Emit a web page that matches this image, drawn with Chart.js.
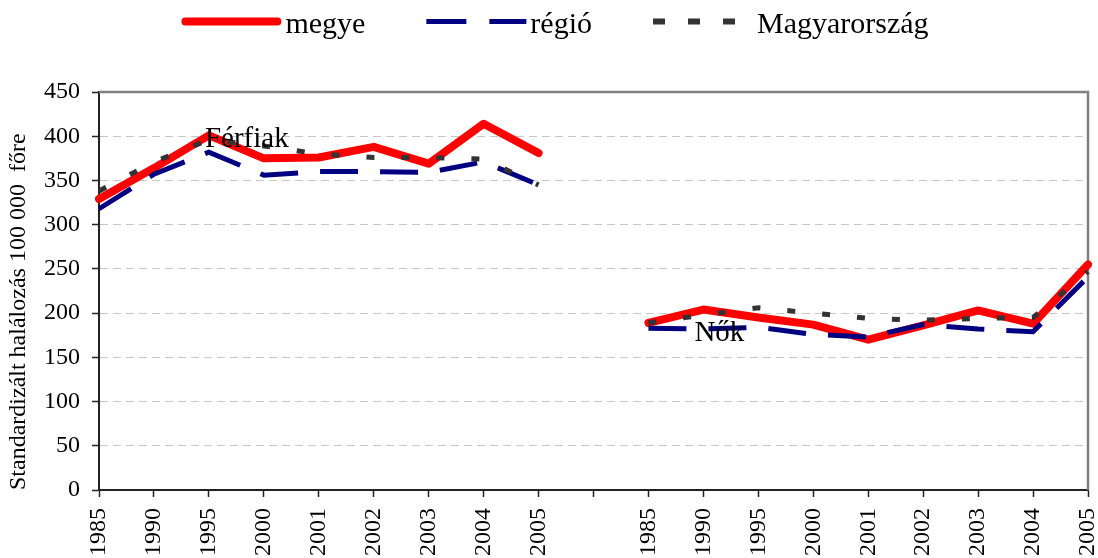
<!DOCTYPE html>
<html>
<head>
<meta charset="utf-8">
<script src="https://cdn.jsdelivr.net/npm/chart.js@4/dist/chart.umd.min.js"></script>
<style>
  html, body { margin: 0; padding: 0; background: #fff; }
  #wrap { width: 1098px; height: 558px; position: relative; }
</style>
</head>
<body>
<div id="wrap"><canvas id="chart"></canvas></div>
<script>
// years on the axis, same set for both groups (men, then women)
const years = ['1985', '1990', '1995', '2000', '2001', '2002', '2003', '2004', '2005'];
const labels = [...years, '', ...years];

// standardised mortality per 100 000
const megyeFerfi = [329, 364, 401, 375, 376, 388, 369, 414, 381];
const megyeNo = [189, 204, 195, 187, 170, 186, 203, 188, 255];
const regioFerfi = [318, 357, 382, 356, 360, 360, 359, 371, 345];
const regioNo = [183, 182, 184, 176, 173, 187, 182, 179, 241];
const orszagFerfi = [338, 371, 396, 389, 380, 376, 376, 374, 345];
const orszagNo = [189, 198, 206, 200, 194, 192, 194, 195, 247];

const yTicks = [0, 50, 100, 150, 200, 250, 300, 350, 400, 450];

const serif = 'Liberation Serif, Times New Roman, serif';
Chart.defaults.font.family = serif;
Chart.defaults.color = '#000';

// gray frame on top and right of the plot area
const framePlugin = {
    id: 'frame',
    beforeDatasetsDraw(chart) {
        const {ctx, chartArea: a} = chart;
        ctx.save();
        ctx.strokeStyle = '#808080';
        ctx.lineWidth = 2.5;
        ctx.beginPath();
        ctx.moveTo(a.left, a.top);
        ctx.lineTo(a.right, a.top);
        ctx.lineTo(a.right, a.bottom);
        ctx.stroke();
        ctx.restore();
    }
};

// group labels (Férfiak / Nők) placed through the scales
const notesPlugin = {
    id: 'notes',
    afterDatasetsDraw(chart, args, opts) {
        const {ctx, scales} = chart;
        ctx.save();
        ctx.font = opts.font;
        ctx.fillStyle = '#000';
        ctx.textBaseline = 'alphabetic';
        opts.items.forEach(n => {
            const x = scales.x.getPixelForValue(n.index) + n.dx;
            const y = scales.y.getPixelForValue(n.value);
            ctx.fillText(n.text, x, y);
        });
        ctx.restore();
    }
};

// legend drawn like the original: line sample, then text right after it
const legendPlugin = {
    id: 'topLegend',
    afterDraw(chart, args, o) {
        const ctx = chart.ctx;
        ctx.save();
        ctx.font = o.font;
        const items = chart.data.datasets.map(ds => ({ds, w: ctx.measureText(ds.label).width}));
        const total = items.reduce((s, it) => s + o.lineLen + o.textGap + it.w, 0) + o.itemGap * (items.length - 1);
        let x = chart.width / 2 - total / 2 + o.shift;
        items.forEach(it => {
            const ds = it.ds;
            ctx.strokeStyle = ds.borderColor;
            ctx.lineWidth = ds.legendWidth || ds.borderWidth;
            ctx.setLineDash(ds.legendDash || ds.borderDash || []);
            ctx.lineCap = ds.borderCapStyle || 'butt';
            const inset = ctx.lineCap === 'round' ? ctx.lineWidth / 2 : 0;
            ctx.beginPath();
            ctx.moveTo(x + inset, o.y);
            ctx.lineTo(x + o.lineLen - inset, o.y);
            ctx.stroke();
            ctx.setLineDash([]);
            ctx.fillStyle = '#000';
            ctx.textBaseline = 'alphabetic';
            ctx.fillText(ds.label, x + o.lineLen + o.textGap, o.baseline);
            x += o.lineLen + o.textGap + it.w + o.itemGap;
        });
        ctx.restore();
    }
};

new Chart(document.getElementById('chart'), {
    type: 'line',
    data: {
        labels: labels,
        datasets: [
            {
                label: 'megye',
                data: [...megyeFerfi, null, ...megyeNo],
                borderColor: '#ff0000',
                borderWidth: 8,
                borderCapStyle: 'round',
                borderJoinStyle: 'round',
                order: 3
            },
            {
                label: 'régió',
                data: [...regioFerfi, null, ...regioNo],
                borderColor: '#000080',
                borderWidth: 5,
                borderDash: [38, 22],
                legendDash: [40, 23],
                order: 2
            },
            {
                label: 'Magyarország',
                data: [...orszagFerfi, null, ...orszagNo],
                borderColor: '#333333',
                borderWidth: 5,
                borderDash: [8, 27],
                legendDash: [12, 23],
                legendWidth: 6,
                order: 1
            }
        ]
    },
    options: {
        responsive: true,
        maintainAspectRatio: false,
        animation: false,
        spanGaps: false,
        elements: {
            point: {radius: 0, hoverRadius: 0},
            line: {tension: 0, fill: false}
        },
        layout: {padding: {top: 92, right: 10, left: 0, bottom: 0}},
        plugins: {
            legend: {display: false},
            tooltip: {enabled: false},
            topLegend: {
                font: '30px ' + serif,
                y: 21.5,
                baseline: 33,
                lineLen: 100,
                textGap: 4,
                itemGap: 61,
                shift: 6
            },
            notes: {
                font: '29px ' + serif,
                items: [
                    {text: 'Férfiak', index: 2, value: 388, dx: -4},
                    {text: 'Nők', index: 11, value: 168, dx: -9}
                ]
            }
        },
        scales: {
            x: {
                type: 'category',
                offset: false,
                grid: {
                    display: true,
                    drawOnChartArea: false,
                    drawTicks: true,
                    tickLength: 7,
                    tickColor: '#222',
                    tickWidth: 1.5
                },
                border: {display: true, color: '#222', width: 2},
                ticks: {
                    autoSkip: false,
                    maxRotation: 90,
                    minRotation: 90,
                    padding: 11,
                    font: {size: 24}
                },
                afterFit(s) {
                    s.height = 68;
                    s.paddingLeft = 0;
                    s.paddingRight = 0;
                }
            },
            y: {
                min: 0,
                max: 450,
                grid: {
                    color: ctx => (ctx.tick && (ctx.tick.value === 0 || ctx.tick.value === 450)) ? 'rgba(0,0,0,0)' : '#c8c8c8',
                    lineWidth: 1,
                    drawTicks: true,
                    tickLength: 7,
                    tickColor: '#222',
                    tickWidth: 1.5
                },
                border: {display: true, color: '#222', width: 2, dash: [8, 5]},
                ticks: {
                    padding: 12,
                    font: {size: 24},
                    stepSize: 50
                },
                afterBuildTicks(s) {
                    s.ticks = yTicks.map(v => ({value: v}));
                },
                title: {
                    display: true,
                    text: 'Standardizált halálozás 100 000  főre',
                    align: 'start',
                    font: {size: 24},
                    padding: {top: 4, bottom: 0}
                },
                afterFit(s) {
                    s.width = 99;
                    s.paddingTop = 0;
                }
            }
        }
    },
    plugins: [framePlugin, notesPlugin, legendPlugin]
});
</script>
</body>
</html>
